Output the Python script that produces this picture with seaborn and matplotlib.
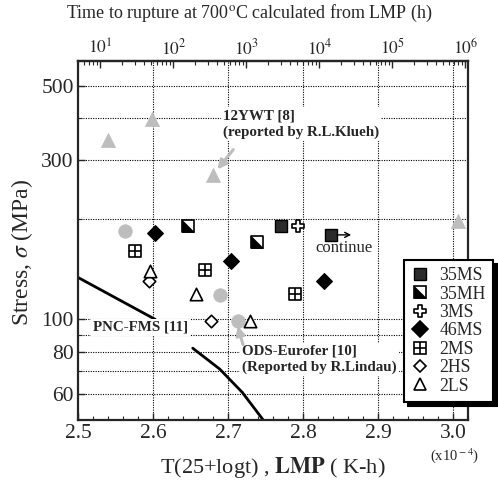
import numpy as np
import pandas as pd
import matplotlib
matplotlib.use("Agg")
import matplotlib.pyplot as plt
import seaborn as sns
from matplotlib.lines import Line2D
from matplotlib.path import Path
from matplotlib.legend_handler import HandlerTuple
from matplotlib.ticker import FixedLocator, NullFormatter, LogLocator, FuncFormatter

# ---------------- data ----------------
ms35_x = [2.771, 2.837]; ms35_y = [190, 179]
mh35_x = [2.647, 2.739]; mh35_y = [190, 170]
ms3_x = [2.793]; ms3_y = [190]
ms46_x = [2.603, 2.704, 2.828]; ms46_y = [181, 149, 130]
ms2_x = [2.576, 2.669, 2.789]; ms2_y = [160, 141, 119]
hs2_x = [2.595, 2.677]; hs2_y = [130, 99]
ls2_x = [2.596, 2.657, 2.729]; ls2_y = [140, 119, 99]
ywt_x = [2.540, 2.599, 2.680, 3.007]; ywt_y = [345, 398, 271, 197]
ods_pt_x = [2.563, 2.689, 2.713]; ods_pt_y = [184, 118, 98.6]
pnc_x = [2.5, 2.603]; pnc_y = [133.5, 100]
ods_x = [2.653, 2.689, 2.719, 2.747]; ods_y = [82, 71, 60.5, 50]

x_ticks = [2.5, 2.6, 2.7, 2.8, 2.9, 3.0]
x_ticklabels = ["2.5", "2.6", "2.7", "2.8", "2.9", "3.0"]
y_ticks = [60, 80, 100, 300, 500]
y_grid = [60, 70, 80, 90, 100, 200, 300, 400, 500]
top_ticks = [1e1, 1e2, 1e3, 1e4, 1e5, 1e6]
legend_labels = ["35MS", "35MH", "3MS", "46MS", "2MS", "2HS", "2LS"]

T_K = 973.0  # 700 C

# ---------------- style ----------------
sns.set_theme(style="ticks")
plt.rcParams["font.family"] = ["Liberation Serif", "DejaVu Serif"]
plt.rcParams["mathtext.fontset"] = "stix"
plt.rcParams["xtick.direction"] = "in"
plt.rcParams["ytick.direction"] = "in"
plt.rcParams["axes.linewidth"] = 1.6

fig = plt.figure(figsize=(4.98, 4.84), dpi=100)
ax = fig.add_axes([78/498, 1-420/484, 390/498, 359/484])
ax.set_yscale("log")
ax.set_xlim(2.5, 3.02)
ax.set_ylim(50, 593)

# grid (dotted)
for v in x_ticks[1:]:
    ax.axvline(v, color="black", lw=0.8, ls=(0, (1, 1.2)), zorder=0)
for v in y_grid:
    ax.axhline(v, color="black", lw=0.8, ls=(0, (1, 1.2)), zorder=0)

# markers
sq_lower_left = [(-1, -1), (1, -1), (-1, 1), (-1, -1)]
w = 0.36
greek_cross = Path([(-w, 1), (w, 1), (w, w), (1, w), (1, -w), (w, -w), (w, -1),
                    (-w, -1), (-w, -w), (-1, -w), (-1, w), (-w, w), (-w, 1)], closed=True)

ms = 8.5
S = ms**2

def sc(x, y, **kw):
    df = pd.DataFrame({"x": x, "y": y})
    sns.scatterplot(data=df, x="x", y="y", ax=ax, legend=False, **kw)

gray = "#bdbdbd"
# reference data (gray)
sc(ywt_x, ywt_y, marker="^", s=(ms*1.2)**2, color=gray, edgecolor=gray, linewidth=0.5, zorder=3)
sc(ods_pt_x, ods_pt_y, marker="o", s=(ms*1.15)**2, color=gray, edgecolor=gray, linewidth=0.5, zorder=3)

# curves
lines = pd.DataFrame({"x": pnc_x, "y": pnc_y})
sns.lineplot(data=lines, x="x", y="y", ax=ax, color="black", lw=2.0, sort=False, zorder=2)
lines2 = pd.DataFrame({"x": ods_x, "y": ods_y})
sns.lineplot(data=lines2, x="x", y="y", ax=ax, color="black", lw=2.0, sort=False, zorder=2)

# present data
sc(ms35_x, ms35_y, marker="s", s=S, color="#2b2b2b", edgecolor="black", linewidth=1.0, zorder=5)
sc(mh35_x, mh35_y, marker="s", s=S, color="white", edgecolor="black", linewidth=1.2, zorder=5)
sc(mh35_x, mh35_y, marker=sq_lower_left, s=S, color="black", edgecolor="black", linewidth=0.5, zorder=6)
sc(ms3_x, ms3_y, marker=greek_cross, s=(ms*1.1)**2, color="white", edgecolor="black", linewidth=1.2, zorder=5)
sc(ms46_x, ms46_y, marker="D", s=(ms*0.95)**2, color="black", edgecolor="black", linewidth=0.8, zorder=5)
sc(ms2_x, ms2_y, marker="s", s=S, color="white", edgecolor="black", linewidth=1.2, zorder=5)
sc(ms2_x, ms2_y, marker="+", s=S, color="black", linewidth=1.2, zorder=6)
sc(hs2_x, hs2_y, marker="D", s=(ms*0.75)**2, color="white", edgecolor="black", linewidth=1.2, zorder=5)
sc(ls2_x, ls2_y, marker="^", s=(ms*1.05)**2, color="white", edgecolor="black", linewidth=1.2, zorder=5)

# axes ticks
ax.set_xticks(x_ticks)
ax.set_xticklabels(x_ticklabels)
ax.xaxis.set_minor_locator(FixedLocator(np.arange(2.5, 3.021, 0.02)))
ax.yaxis.set_major_locator(FixedLocator(y_ticks))
ax.yaxis.set_major_formatter(FuncFormatter(lambda v, p: f"{int(v)}"))
ax.yaxis.set_minor_locator(LogLocator(base=10, subs=np.arange(1, 10)))
ax.yaxis.set_minor_formatter(NullFormatter())
ax.tick_params(axis="both", which="major", labelsize=15.5, length=5, width=1.0, pad=3)
ax.tick_params(axis="both", which="minor", length=3, width=0.8)
ax.tick_params(axis="x", top=False)
ax.tick_params(axis="y", right=False)
ax.set_xlabel("")
ax.set_ylabel("")

# secondary top axis: time to rupture
def lmp_to_t(x):
    x = np.asarray(x, dtype=float)
    return 10 ** (x * 1e4 / T_K - 25.0)

def t_to_lmp(t):
    t = np.clip(np.asarray(t, dtype=float), 1e-30, None)
    return T_K * (25.0 + np.log10(t)) / 1e4

sec = ax.secondary_xaxis("top", functions=(lmp_to_t, t_to_lmp))
sec.set_xscale("log")
sec.xaxis.set_major_locator(FixedLocator(top_ticks))
sec.xaxis.set_major_formatter(FuncFormatter(lambda v, p: r"$10^{%d}$" % int(round(np.log10(v)))))
sec.xaxis.set_minor_locator(LogLocator(base=10, subs=np.arange(2, 10)))
sec.xaxis.set_minor_formatter(NullFormatter())
sec.tick_params(axis="x", which="major", direction="in", labelsize=12.5, length=5, width=1.0, pad=2)
sec.tick_params(axis="x", which="minor", direction="in", length=3, width=0.8)

# annotations
bold = dict(fontsize=10.8, fontweight="bold", family=["Liberation Serif", "DejaVu Serif"])
ax.text(2.693, 425, "12YWT [8]\n(reported by R.L.Klueh)", ha="left", va="top",
        linespacing=1.3, zorder=4,
        bbox=dict(facecolor="white", edgecolor="none", pad=1.5), **bold)
ax.annotate("", xy=(2.686, 281), xytext=(2.707, 322),
            arrowprops=dict(arrowstyle="-|>", color=gray, lw=2.2, mutation_scale=13,
                            shrinkA=0, shrinkB=0), zorder=4)
ax.text(2.719, 84, "ODS-Eurofer [10]\n(Reported by R.Lindau)", ha="left", va="top",
        linespacing=1.3, zorder=4,
        bbox=dict(facecolor="white", edgecolor="none", pad=1.5), **bold)
ax.annotate("", xy=(2.713, 95.5), xytext=(2.72, 84),
            arrowprops=dict(arrowstyle="-|>", color=gray, lw=2.2, mutation_scale=13,
                            shrinkA=0, shrinkB=0), zorder=4)
ax.text(2.52, 94.6, "PNC-FMS [11]", ha="left", va="center", zorder=4,
        bbox=dict(facecolor="white", edgecolor="none", pad=1.5), **bold)
ax.annotate("", xy=(2.868, 179), xytext=(2.842, 179),
            arrowprops=dict(arrowstyle="->", color="black", lw=1.0, mutation_scale=9), zorder=6)
ax.text(2.817, 164, "continue", ha="left", va="center", fontsize=12, zorder=6)

# axis labels
fig.text(0.5, 1-13/484, r"Time to rupture at 700$^{\rm o}$C calculated from LMP (h)",
         ha="center", va="center", fontsize=13)
fig.text(22/498, 1-252/484, r"Stress, $\sigma$ (MPa)", rotation=90, ha="center", va="center", fontsize=17)
fig.text(273/498, 1-468/484, r"T(25+logt) , $\mathbf{LMP}$ ( K-h)", ha="center", va="center", fontsize=16)
fig.text(455/498, 1-456/484, r"(x10$^{\rm -4}$)", ha="center", va="center", fontsize=10.5)

# legend
def h(**kw):
    base = dict(linestyle="none", markersize=ms, markeredgecolor="black", markeredgewidth=1.2)
    base.update(kw)
    return Line2D([], [], **base)

handles = [
    h(marker="s", markerfacecolor="#2b2b2b", markeredgewidth=1.0),
    (h(marker="s", markerfacecolor="white"), h(marker=sq_lower_left, markerfacecolor="black", markeredgewidth=0.5)),
    h(marker=greek_cross, markerfacecolor="white", markersize=ms*1.1),
    h(marker="D", markerfacecolor="black", markersize=ms*0.95),
    (h(marker="s", markerfacecolor="white"), h(marker="+", color="black")),
    h(marker="D", markerfacecolor="white", markersize=ms*0.75),
    h(marker="^", markerfacecolor="white", markersize=ms*1.05),
]
leg = ax.legend(handles, legend_labels, loc="upper left",
                bbox_to_anchor=((404-78)/390, (420-260)/359),
                handler_map={tuple: HandlerTuple(ndivide=1, pad=0)},
                fontsize=12.8, frameon=True, fancybox=False,
                shadow={"ox": 3, "oy": -3, "facecolor": "black", "edgecolor": "black", "alpha": 1},
                handlelength=1.0, handletextpad=0.6, labelspacing=0.08,
                borderpad=0.4, borderaxespad=0, framealpha=1)
leg.get_frame().set_edgecolor("black")
leg.get_frame().set_linewidth(1.5)
leg.set_zorder(10)

fig.savefig("out.png", dpi=100)
